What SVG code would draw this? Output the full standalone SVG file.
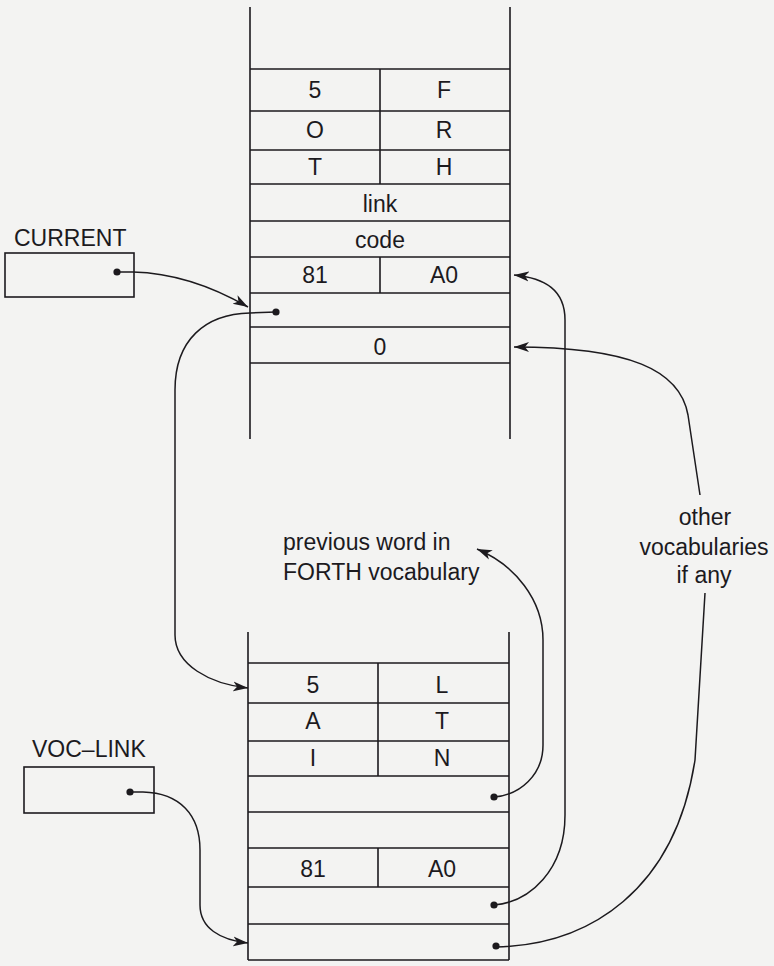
<svg xmlns="http://www.w3.org/2000/svg" width="774" height="966" viewBox="0 0 774 966">
<defs>
<style>
.bg{fill:#f3f3f2}
.ln{stroke:#1c1a1e;stroke-width:1.6;fill:none}
.cn{stroke:#1c1a1e;stroke-width:1.5;fill:none}
.t{font-family:"Liberation Sans",Arial,Helvetica,sans-serif;font-size:23px;fill:#1c1a1e}
.c{text-anchor:middle}
.dot{fill:#1c1a1e}
</style>
<marker id="arr" markerUnits="userSpaceOnUse" markerWidth="16" markerHeight="12" refX="15" refY="6" orient="auto">
<path d="M0,1 L15,6 L0,11 L4,6 z" fill="#1c1a1e"/>
</marker>
</defs>
<rect class="bg" x="0" y="0" width="774" height="966"/>

<g id="word-forth">
<path class="ln" d="M250,7 V439 M510,7 V439 M250,69 H510 M250,111 H510 M250,150 H510 M250,184 H510 M250,221 H510 M250,257 H510 M250,293 H510 M250,327 H510 M250,363 H510 M380,69 V184 M380,257 V293"/>
<text class="t c" x="315" y="98">5</text>
<text class="t c" x="444" y="98">F</text>
<text class="t c" x="315" y="138">O</text>
<text class="t c" x="444" y="138">R</text>
<text class="t c" x="315" y="175">T</text>
<text class="t c" x="444" y="175">H</text>
<text class="t c" x="380" y="212">link</text>
<text class="t c" x="380" y="248">code</text>
<text class="t c" x="315" y="283">81</text>
<text class="t c" x="444" y="283">A0</text>
<text class="t c" x="380" y="355">0</text>
<circle class="dot" cx="276" cy="312" r="3.6"/>
</g>

<g id="word-latin">
<path class="ln" d="M248,632 V960 M509,632 V960 M248,663 H509 M248,703 H509 M248,741 H509 M248,776 H509 M248,812 H509 M248,848 H509 M248,887 H509 M248,924 H509 M248,960 H509 M378,663 V776 M378,848 V887"/>
<text class="t c" x="313" y="693">5</text>
<text class="t c" x="442" y="693">L</text>
<text class="t c" x="313" y="729">A</text>
<text class="t c" x="442" y="729">T</text>
<text class="t c" x="313" y="766">I</text>
<text class="t c" x="442" y="766">N</text>
<text class="t c" x="313" y="877">81</text>
<text class="t c" x="442" y="877">A0</text>
<circle class="dot" cx="494" cy="797" r="3.6"/>
<circle class="dot" cx="494" cy="905" r="3.6"/>
<circle class="dot" cx="496" cy="946" r="3.6"/>
</g>

<g id="current">
<text class="t" x="14" y="246">CURRENT</text>
<rect class="ln" x="5" y="253" width="129" height="44"/>
<circle class="dot" cx="117" cy="272" r="3.6"/>
</g>

<g id="voc-link">
<text class="t" x="32" y="757">VOC–LINK</text>
<rect class="ln" x="24" y="767" width="130" height="46"/>
<circle class="dot" cx="130" cy="792" r="3.6"/>
</g>

<g id="label-previous">
<text class="t" x="283" y="550">previous word in</text>
<text class="t" x="283" y="580">FORTH vocabulary</text>
</g>

<g id="label-other">
<text class="t c" x="705" y="525">other</text>
<text class="t c" x="704" y="555">vocabularies</text>
<text class="t c" x="704" y="583">if any</text>
</g>

<g id="connectors">
<path class="cn" marker-end="url(#arr)" d="M117,272 L133,272 C175,273 215,288 248,307"/>
<path class="cn" marker-end="url(#arr)" d="M276,312 L250,313 C205,314 175,340 175,390 L175,635 C175,665 210,684 248,688"/>
<path class="cn" marker-end="url(#arr)" d="M130,792 L143,792 C180,793 200,815 200,850 L200,905 C200,928 220,940 248,943"/>
<path class="cn" marker-end="url(#arr)" d="M494,797 C520,795 543,775 543,745 L543,640 C543,600 515,565 477,549"/>
<path class="cn" marker-end="url(#arr)" d="M494,905 C530,902 565,870 565,815 L565,320 C565,290 545,278 514,275"/>
<path class="cn" d="M496,947 C590,945 675,890 695,760 L705,593"/>
<path class="cn" marker-end="url(#arr)" d="M700,495 L688,415 C680,370 630,347 514,347"/>
</g>
</svg>
